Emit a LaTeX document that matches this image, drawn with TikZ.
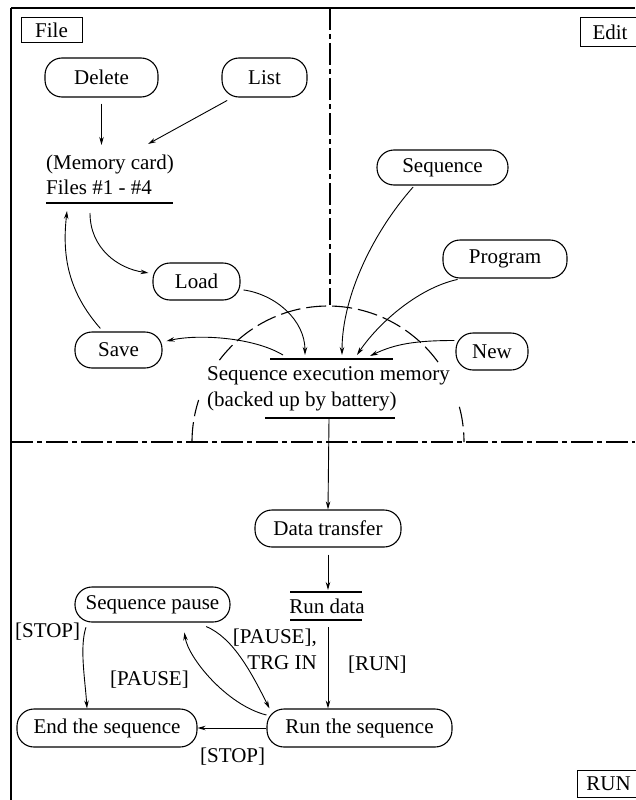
\documentclass[tikz,border=0pt]{standalone}
\usepackage{fontspec}
\setmainfont{Liberation Serif}
\usetikzlibrary{arrows.meta}
\begin{document}
\begin{tikzpicture}[x=1pt,y=-1pt,
  every node/.style={font=\fontsize{21}{25.5}\selectfont, inner sep=0pt},
  op/.style={draw, line width=1.1pt, rounded corners=17pt, minimum height=37pt},
  tag/.style={draw, line width=1pt, minimum height=25pt},
  arr/.style={line width=0.9pt, -{Stealth[length=8pt,width=4.5pt]}},
  dd/.style={line width=1.1pt, dash pattern=on 22pt off 4pt on 5pt off 4pt},
  arcd/.style={line width=1.1pt, dash pattern=on 20pt off 6pt},
  bar/.style={line width=1.1pt}]
\useasboundingbox (0,0) rectangle (635,800);
% frame
\draw[line width=1.3pt] (11,8) -- (11,800);
\draw[line width=2pt] (11,8) -- (635,8);
\draw[dd] (330,8) -- (330,305);
\draw[dd] (11,442) -- (635,442);
% arc
\draw[arcd, domain=180:198, samples=20, variable=\t] plot ({328+136*cos(\t)}, {442+136*sin(\t)});
\draw[arcd, domain=217:325, samples=60, variable=\t] plot ({328+136*cos(\t)}, {442+136*sin(\t)});
\draw[arcd, domain=345:360, samples=20, variable=\t] plot ({328+136*cos(\t)}, {442+136*sin(\t)});
% tags
\node[tag, minimum width=61pt] (file) at (51.5,30.5) {File};
\node[tag, minimum width=60pt, minimum height=29pt] (edit) at (610,32.5) {Edit};
\node[tag, minimum width=63pt, minimum height=27pt] (run) at (608.5,783.5) {RUN};
% process nodes
\node[op, minimum width=113pt, minimum height=39pt] (delete) at (101.5,77.5) {Delete};
\node[op, minimum width=85pt, minimum height=39pt] (list) at (264.5,77.5) {List};
\node[op, minimum width=131pt, minimum height=35pt] (sequence) at (442.5,167.5) {Sequence};
\node[op, minimum width=124pt, minimum height=38pt] (program) at (505,259) {Program};
\node[op, minimum width=87pt] (load) at (196.5,281.5) {Load};
\node[op, minimum width=87pt, minimum height=36pt] (save) at (118.5,350) {Save};
\node[op, minimum width=72pt] (new) at (492,351.5) {New};
\node[op, minimum width=146pt] (datatr) at (328,528.5) {Data transfer};
\node[op, minimum width=155pt, minimum height=35pt] (pause) at (152.5,604.5) {Sequence pause};
\node[op, minimum width=180pt, minimum height=38pt] (endseq) at (107,728) {End the sequence};
\node[op, minimum width=185pt, minimum height=38pt] (runseq) at (359.5,728) {Run the sequence};
% data stores
\node[anchor=west, align=left] (card) at (46,175) {(Memory card)\\Files \#1 - \#4};
\draw[bar] (46,203) -- (173,203);
\node[anchor=west, align=left] (mem) at (207,389) {Sequence execution memory\\(backed up by battery)};
\draw[bar] (270,359) -- (393,359);
\draw[bar] (265,418) -- (395,418);
\node (rundata) at (327,606) {Run data};
\draw[bar] (290,592) -- (362,592);
\draw[bar] (290,620) -- (362,620);
% coordinates
\coordinate (cardA) at (101.5,145);
\coordinate (cardB) at (148,144);
\coordinate (cardC) at (67,211);
\coordinate (cardD) at (90,213);
\coordinate (memA) at (305,355);
\coordinate (memB) at (342,355);
\coordinate (memC) at (357,355);
\coordinate (memD) at (370,356);
\coordinate (memS) at (283,355);
\coordinate (memdown) at (329,419);
\coordinate (rdtop) at (328,590);
\coordinate (rdbot) at (328,627);
% connectors top
\draw[arr, shorten <=6pt] (delete.south) -- (cardA);
\draw[arr, shorten <=6pt] ([xshift=11pt]list.south west) -- (cardB);
\draw[arr, shorten <=3pt] ([yshift=-8pt]load.east) .. controls +(35,5) and +(0,-35) .. (memA);
\draw[arr, shorten <=2pt] ([xshift=38pt]sequence.south west) .. controls +(-40,45) and +(0,-60) .. (memB);
\draw[arr, shorten <=4pt] ([xshift=19pt]program.south west) .. controls +(-45,10) and +(20,-30) .. (memC);
\draw[arr, shorten <=1pt] ([yshift=11pt]new.west) .. controls +(-40,0) and +(25,-12) .. (memD);
\draw[arr, shorten >=4pt] (memS) .. controls +(-30,-18) and +(35,-8) .. ([yshift=8pt]save.east);
\draw[arr, shorten <=4pt] ([xshift=-15.5pt]save.north) .. controls +(-35,-40) and +(-5,45) .. (cardC);
\draw[arr, shorten >=4pt] (cardD) .. controls +(0,35) and +(-35,-5) .. ([yshift=8pt]load.west);
\draw[arr] (memdown) -- (datatr.north);
\draw[arr, shorten <=7pt] (datatr.south) -- (rdtop);
\draw[arr] (rdbot) -- (rdbot |- runseq.north);
% connectors bottom
\draw[arr, shorten <=5pt] ([xshift=13pt]pause.south west) .. controls +(-8,25) and +(-2,-30) .. ([xshift=-20pt]endseq.north);
\draw[arr, shorten >=10pt] ([yshift=13pt]runseq.west) .. controls +(-40,-10) and +(5,35) .. ([xshift=30.5pt]pause.south);
\draw[arr, shorten <=10pt] ([xshift=44.5pt]pause.south) .. controls +(35,15) and +(-20,-40) .. ([xshift=3pt]runseq.north west);
\draw[arr] (runseq.west) -- (endseq.east);
% labels
\node[anchor=west] (l1) at (15,632) {[STOP]};
\node[anchor=west] (l2) at (110,680) {[PAUSE]};
\node[anchor=east, align=right] (l3) at (317,649.5) {[PAUSE],\\TRG IN};
\node[anchor=west] (l4) at (348,665) {[RUN]};
\node[anchor=west] (l5) at (200,757) {[STOP]};
\end{tikzpicture}
\end{document}
